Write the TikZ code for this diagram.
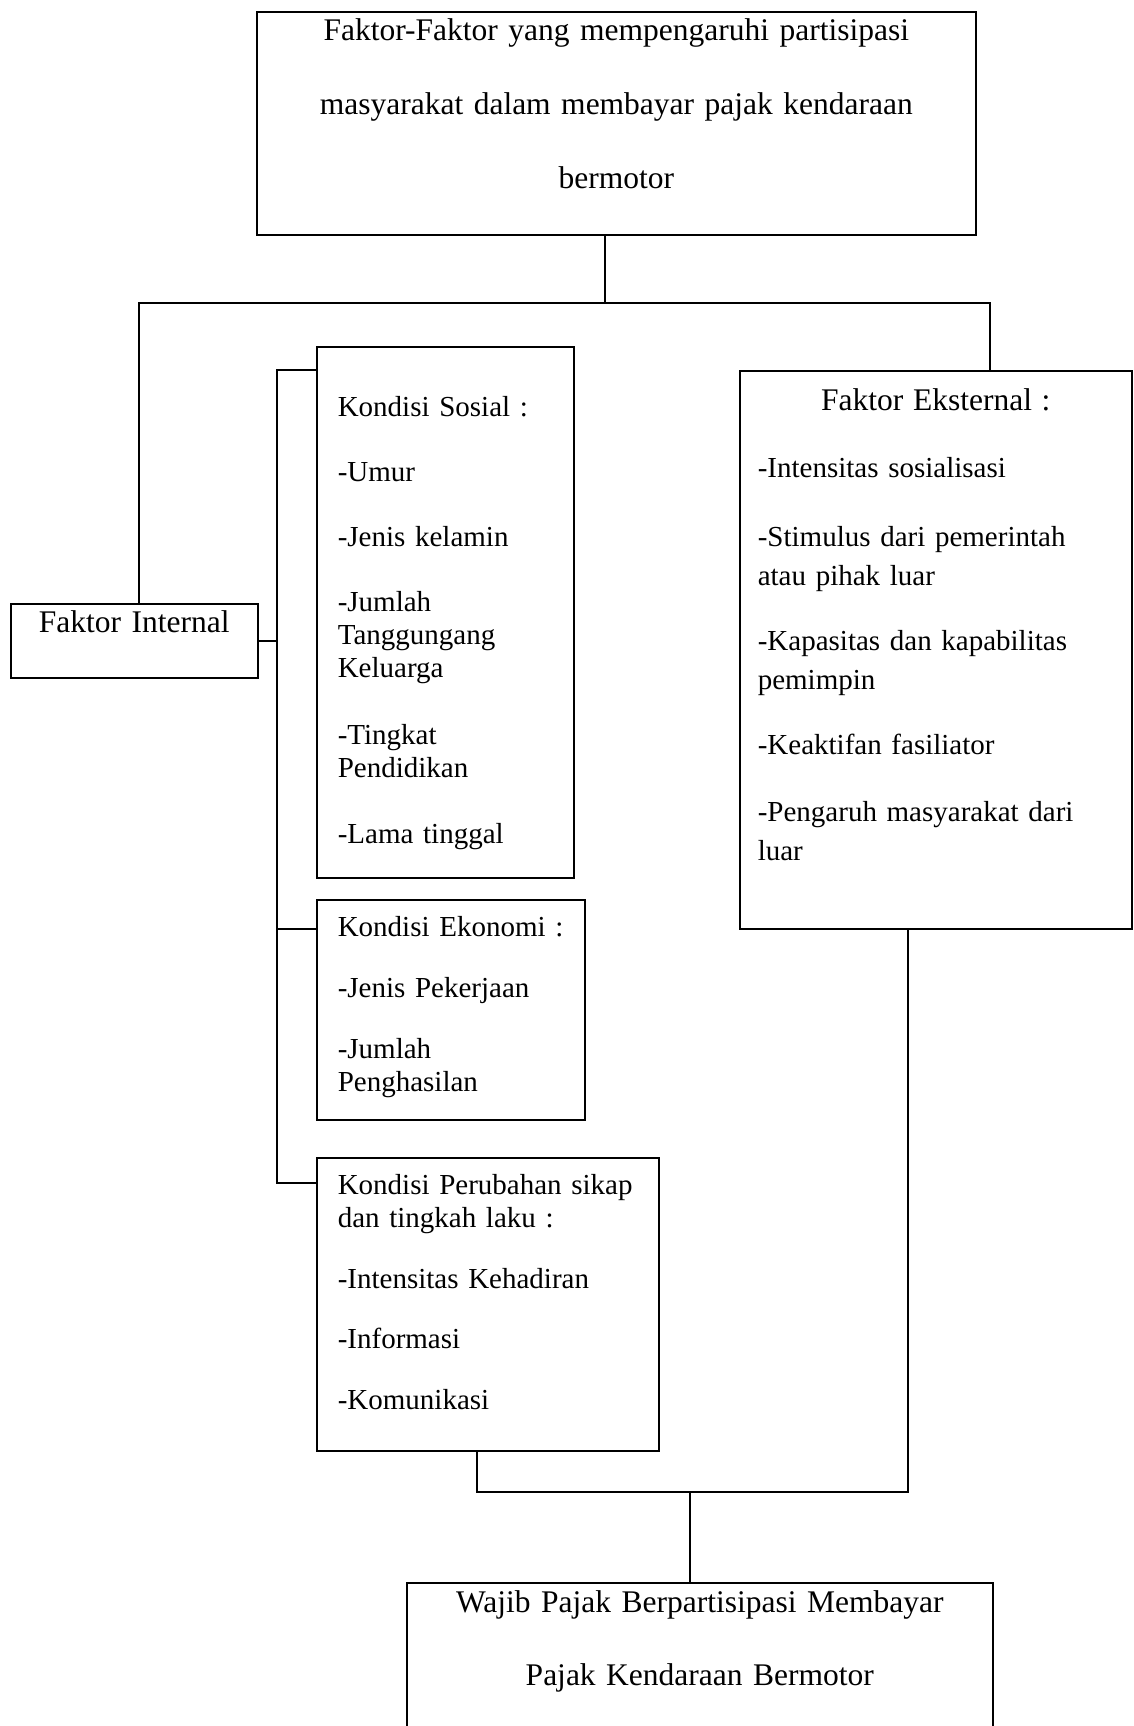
\documentclass[tikz,border=0pt]{standalone}
\usepackage{fontspec}
\setmainfont{Liberation Serif}
\begin{document}
\begin{tikzpicture}[x=1pt,y=-1pt,line width=1.6pt,
    kotak/.style={draw, anchor=north west, inner ysep=0pt, align=left,
        font=\fontsize{29}{33}\selectfont}]
    % Cadre de la page
    \useasboundingbox (0,0) rectangle (1133,1726);
    \clip (0,0) rectangle (1133,1726);

    % Boite du haut
    \node[kotak, align=center, inner xsep=0pt, text width=719pt,
        text height=29pt, text depth=194pt,
        font=\fontsize{31.5}{74}\selectfont] (tb) at (256,11)
        {Faktor-Faktor yang mempengaruhi partisipasi\\
         masyarakat dalam membayar pajak kendaraan\\
         bermotor};

    % Faktor interne et ses conditions
    \node[kotak, align=center, inner xsep=0pt, text width=247pt,
        text height=29pt, text depth=45pt,
        font=\fontsize{31.5}{33}\selectfont] (fi) at (10,603) {Faktor Internal};

    \node[kotak, inner xsep=21pt, text width=215pt,
        text height=70pt, text depth=461pt] (ks) at (316,346)
        {Kondisi Sosial :\\[32pt]
         -Umur\\[32pt]
         -Jenis kelamin\\[32pt]
         -Jumlah\\Tanggungang\\Keluarga\\[34pt]
         -Tingkat\\Pendidikan\\[33pt]
         -Lama tinggal};

    \node[kotak, inner xsep=21pt, text width=226pt,
        text height=37pt, text depth=183pt] (ke) at (316,899)
        {Kondisi Ekonomi :\\[28pt]
         -Jenis Pekerjaan\\[28pt]
         -Jumlah\\Penghasilan};

    \node[kotak, inner xsep=21pt, text width=300pt,
        text height=37pt, text depth=256pt] (kp) at (316,1157)
        {Kondisi Perubahan sikap\\dan tingkah laku :\\[28pt]
         -Intensitas Kehadiran\\[27pt]
         -Informasi\\[28pt]
         -Komunikasi};

    % Faktor externe
    \node[kotak, inner xsep=18pt, text width=356pt,
        text height=40pt, text depth=518pt,
        font=\fontsize{29}{39}\selectfont] (fe) at (739,370)
        {\makebox[\linewidth]{\fontsize{31.5}{39}\selectfont Faktor Eksternal :}\\[28pt]
         -Intensitas sosialisasi\\[30pt]
         -Stimulus dari pemerintah\\atau pihak luar\\[26pt]
         -Kapasitas dan kapabilitas\\pemimpin\\[26pt]
         -Keaktifan fasiliator\\[28pt]
         -Pengaruh masyarakat dari\\luar};

    % Boite du bas
    \node[kotak, align=center, inner xsep=0pt, text width=586pt,
        text height=30pt, text depth=170pt,
        font=\fontsize{31.5}{73}\selectfont] (wp) at (406,1582)
        {Wajib Pajak Berpartisipasi Membayar\\
         Pajak Kendaraan Bermotor};

    % Liaisons du haut
    \coordinate (haut) at (605,303);
    \coordinate (gauche) at (139,303);
    \coordinate (droite) at (990,303);
    \draw (tb.south -| haut) -- (haut);
    \draw (gauche |- fi.north) -- (gauche) -- (droite) -- (droite |- fe.north);

    % Bus des conditions internes
    \coordinate (bus) at (277,0);
    \coordinate (b1) at ([yshift=-24pt]ks.north west);
    \coordinate (b2) at ([yshift=-30pt]ke.north west);
    \coordinate (b3) at ([yshift=-26pt]kp.north west);
    \draw (b1) -- (b1 -| bus) -- (b3 -| bus) -- (b3);
    \draw (b2) -- (b2 -| bus);
    \draw (fi.east) -- (fi.east -| bus);

    % Liaisons du bas
    \coordinate (p1) at (477,1492);
    \coordinate (p2) at (908,1492);
    \coordinate (bas) at (690,1492);
    \draw (p1 |- kp.south) -- (p1) -- (p2) -- (p2 |- fe.south);
    \draw (bas) -- (bas |- wp.north);
\end{tikzpicture}
\end{document}
